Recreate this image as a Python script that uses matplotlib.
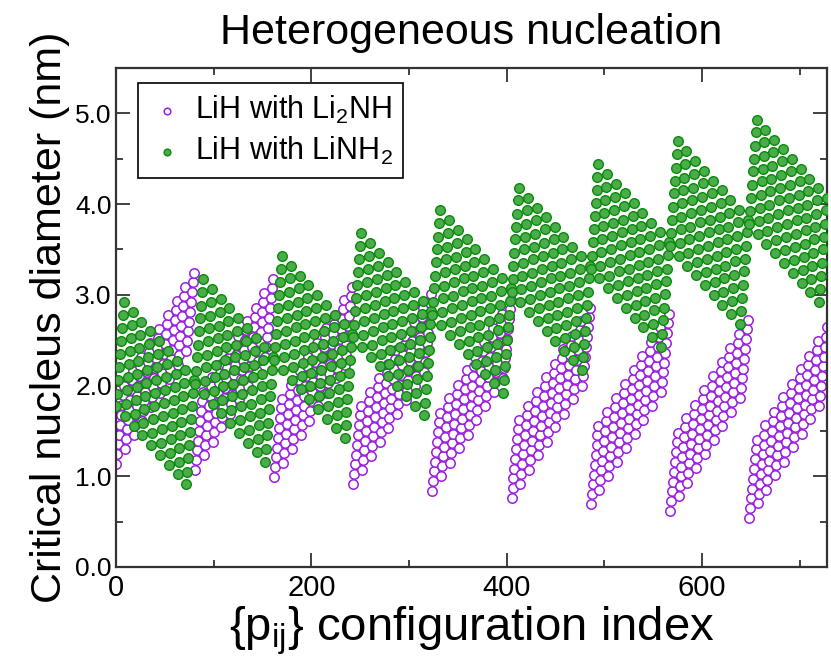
import numpy as np
import matplotlib
matplotlib.use('Agg')
import matplotlib.pyplot as plt
from matplotlib.ticker import MultipleLocator

# 729 configurations = 9 blocks x 9 groups (i) x 9 members (j)
# index = 81*block + 9*i + j ; value = base[block] + j_off[j] + i_off[i]
# values (nm)

# LiH with Li2NH (purple)
li2nh_block_base = [1.14, 1.07, 0.99, 0.91, 0.84, 0.76, 0.69, 0.62, 0.54]
li2nh_j_off = [0.00, 0.11, 0.22, 0.32, 0.43, 0.54, 0.65, 0.76, 0.86]
li2nh_i_off = [0.00, 0.16, 0.31, 0.47, 0.62, 0.78, 0.93, 1.09, 1.24]

# LiH with LiNH2 (green)
linh2_block_base = [1.77, 2.02, 2.28, 2.53, 2.78, 3.03, 3.29, 3.54, 3.78]
linh2_j_off = [0.00, 0.14, 0.29, 0.43, 0.58, 0.72, 0.86, 1.01, 1.15]
linh2_i_off = [0.00, -0.11, -0.22, -0.32, -0.43, -0.54, -0.65, -0.75, -0.86]

n_blocks = 9
n_grp = 9
n_mem = 9

idx = np.arange(n_blocks * n_grp * n_mem)
blk = idx // (n_grp * n_mem)
grp = (idx // n_mem) % n_grp
mem = idx % n_mem

y_li2nh = (np.array(li2nh_block_base)[blk] + np.array(li2nh_j_off)[mem]
           + np.array(li2nh_i_off)[grp])
y_linh2 = (np.array(linh2_block_base)[blk] + np.array(linh2_j_off)[mem]
           + np.array(linh2_i_off)[grp])

plt.rcParams['font.family'] = ['Liberation Sans', 'DejaVu Sans']
plt.rcParams['mathtext.fontset'] = 'custom'
plt.rcParams['mathtext.rm'] = 'Liberation Sans'
plt.rcParams['mathtext.it'] = 'Liberation Sans'

fig = plt.figure(figsize=(8.31, 6.58), dpi=100)
ax = fig.add_axes([116 / 831, 1 - 567 / 658, (827 - 116) / 831, (567 - 68) / 658])

purple = '#9a1ee0'
green_edge = '#0a8a0a'
green_face = '#4aac4a'

ax.scatter(idx, y_li2nh, s=46, facecolor='white', edgecolor=purple,
           linewidth=1.1, label='LiH with Li$_2$NH', zorder=2)
ax.scatter(idx, y_linh2, s=48, facecolor=green_face, edgecolor=green_edge,
           linewidth=1.0, label='LiH with LiNH$_2$', zorder=3)

ax.set_xlim(0, 728)
ax.set_ylim(0, 5.5)
ax.xaxis.set_major_locator(MultipleLocator(200))
ax.xaxis.set_minor_locator(MultipleLocator(100))
ax.yaxis.set_major_locator(MultipleLocator(1.0))
ax.yaxis.set_minor_locator(MultipleLocator(0.5))
ax.yaxis.set_major_formatter(plt.FormatStrFormatter('%.1f'))

ax.tick_params(which='both', direction='in', top=True, right=True, width=1.3,
               color='#333333')
ax.tick_params(which='major', length=10)
ax.tick_params(which='minor', length=5)
ax.tick_params(axis='x', labelsize=21, pad=5)
ax.tick_params(axis='y', labelsize=19, pad=3)
for sp in ax.spines.values():
    sp.set_linewidth(1.6)
    sp.set_color('#333333')

ax.set_xlabel('{p$_{\\mathregular{ij}}$} configuration index', fontsize=34, labelpad=2)
ax.set_ylabel('Critical nucleus diameter (nm)', fontsize=31, labelpad=4)
ax.set_title('Heterogeneous nucleation', fontsize=31, pad=17)

leg = ax.legend(loc='upper left', bbox_to_anchor=((138 - 116) / 711, (567 - 83) / 499),
                borderaxespad=0, fontsize=22, frameon=True, fancybox=False,
                edgecolor='black', framealpha=1, handletextpad=0.3,
                borderpad=0.35, labelspacing=0.3, markerscale=0.7,
                handlelength=1.2)
leg.get_frame().set_linewidth(1.2)

fig.savefig('out.png', dpi=100)
